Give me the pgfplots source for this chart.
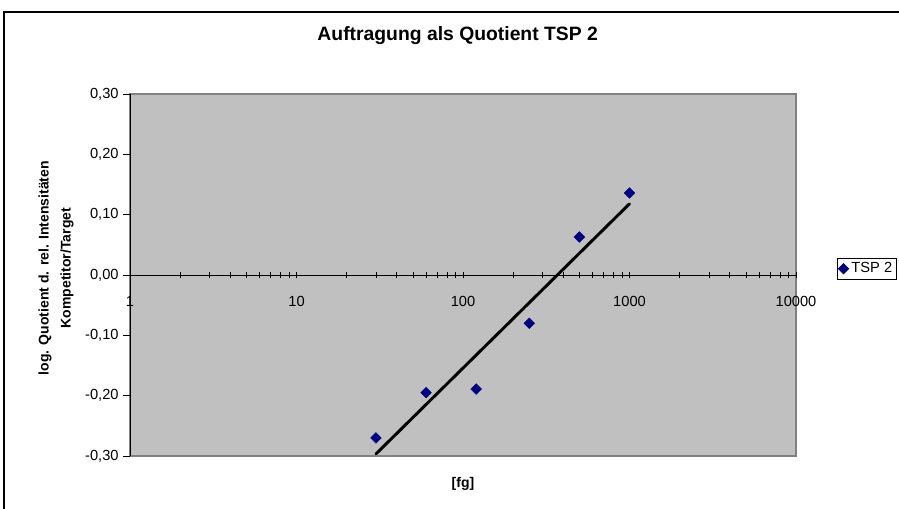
\documentclass[border=0pt]{standalone}
\usepackage{pgfplots}
\pgfplotsset{compat=1.18}
\usepackage{fontspec}
\setmainfont{Liberation Sans}
\usetikzlibrary{calc}
\definecolor{plotgray}{HTML}{C0C0C0}
\definecolor{bordergray}{HTML}{808080}
\definecolor{navyblue}{HTML}{000080}
\pgfplotstableread{
x y
30 -0.270
60 -0.195
120 -0.189
250 -0.080
500 0.063
1000 0.136
}\tspdata
\begin{document}
\begin{tikzpicture}
\begin{axis}[
  name=ax,
  scale only axis, width=499.5pt, height=271.5pt,
  xmode=log, xmin=1, xmax=10000, ymin=-0.3, ymax=0.3,
  axis x line=middle, axis y line=left,
  axis line style={-, black, line width=0.6pt},
  axis background/.style={fill=plotgray, draw=bordergray, line width=0.8pt},
  xtick={1,10,100,1000,10000}, xticklabels={1,10,100,1000,10000},
  minor xtick={2,3,4,5,6,7,8,9,20,30,40,50,60,70,80,90,200,300,400,500,600,700,800,900,2000,3000,4000,5000,6000,7000,8000,9000},
  xtick align=center, ytick align=outside,
  major tick length=5pt, minor tick length=4pt,
  tick style={black, line width=0.5pt},
  hide obscured x ticks=false, hide obscured y ticks=false,
  ytick={-0.3,-0.2,-0.1,0,0.1,0.2,0.3},
  /pgf/number format/assume math mode=true,
  yticklabel style={font=\fontsize{11}{13}\selectfont, /pgf/number format/fixed, /pgf/number format/fixed zerofill, /pgf/number format/precision=2, /pgf/number format/use comma},
  xticklabel style={font=\fontsize{11}{13}\selectfont, yshift=-10pt},
  title={Auftragung als Quotient TSP 2},
  title style={at={(axis description cs:0.5,1)}, anchor=base, yshift=34.5pt, xshift=-4pt, font=\bfseries\fontsize{14.5}{17}\selectfont},
  xlabel={[fg]},
  every axis x label/.style={at={(axis description cs:0.5,0)}, anchor=base, yshift=-23.25pt, font=\bfseries\fontsize{10.5}{12}\selectfont},
  ylabel={log. Quotient d. rel. Intensitäten\\Kompetitor/Target},
  every axis y label/.style={at={(axis description cs:-0.111,0.519)}, rotate=90, anchor=center, align=center, font=\bfseries\fontsize{10.5}{16.5}\selectfont},
  legend style={at={(axis description cs:1.061,0.546)}, anchor=north west, draw=black, fill=white, font=\fontsize{11}{13}\selectfont, inner xsep=1pt, inner ysep=1pt, row sep=0pt},
  legend image code/.code={\draw[#1] plot coordinates {(0.1cm,0cm)};},
]
\addplot[only marks, mark=square*, mark size=2.8pt, mark options={rotate=45, fill=navyblue, draw=navyblue}] table[x=x, y=y] {\tspdata};
\addlegendentry{TSP 2}
\addplot[forget plot, black, line width=2.2pt, line cap=round] coordinates {(30,-0.2966) (1000,0.118)};
\coordinate (SW) at (rel axis cs:0,0);
\coordinate (NE) at (rel axis cs:1,1);
\end{axis}
\draw[black, line width=0.8pt] ($(SW)+(-94.5pt,-45pt)$) -- ($(SW|-NE)+(-94.5pt,61.5pt)$) -- ($(NE)+(85pt,61.5pt)$);
\pgfresetboundingbox
\path[use as bounding box] ($(SW)+(-97.5pt,-39pt)$) rectangle ($(NE)+(77.25pt,70.5pt)$);
\end{tikzpicture}
\end{document}
